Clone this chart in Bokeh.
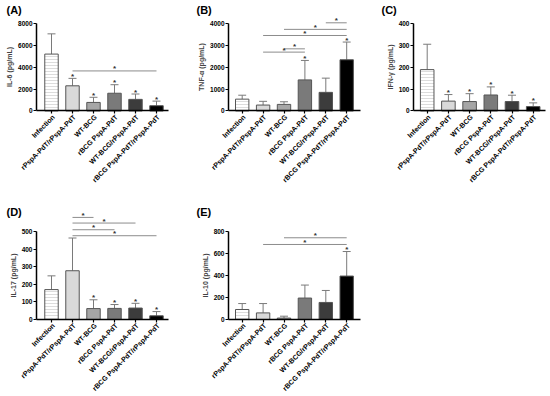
import math
from bokeh.plotting import figure
from bokeh.models import FixedTicker
from bokeh.layouts import row, column
from bokeh.embed import file_html
from bokeh.resources import INLINE
from bokeh.core.properties import value

groups = ["Infection", "rPspA-PdT/rPspA-PdT", "WT-BCG", "rBCG PspA-PdT",
          "WT-BCG/rPspA-PdT", "rBCG PspA-PdT/rPspA-PdT"]
bar_colors = ["#ffffff", "#d9d9d9", "#a6a6a6", "#7a7a7a", "#3c3c3c", "#000000"]

# (A) IL-6
il6_mean = [5200, 2300, 780, 1620, 1060, 480]
il6_err = [1850, 680, 470, 780, 490, 420]
il6_star = [0, 1, 1, 1, 1, 1]
il6_sig = [(1, 5, 3660)]
il6_ticks = [0, 2000, 4000, 6000, 8000]

# (B) TNF-alpha
tnf_mean = [540, 270, 300, 1420, 850, 2340]
tnf_err = [180, 170, 120, 890, 650, 810]
tnf_star = [0, 0, 0, 1, 0, 1]
tnf_sig = [(1, 3, 2690), (2, 3, 2840), (1, 5, 3450), (2, 5, 3730), (4, 5, 4030)]
tnf_ticks = [0, 1000, 2000, 3000, 4000]

# (C) IFN-gamma
ifn_mean = [189, 45, 43, 73, 43, 20]
ifn_err = [116, 30, 36, 37, 29, 17]
ifn_star = [0, 1, 1, 1, 1, 1]
ifn_sig = []
ifn_ticks = [0, 100, 200, 300, 400]

# (D) IL-17
il17_mean = [170, 277, 62, 63, 65, 21]
il17_err = [78, 186, 50, 22, 27, 24]
il17_star = [0, 0, 1, 1, 1, 1]
il17_sig = [(1, 2, 580), (1, 4, 548), (1, 3, 510), (1, 5, 476)]
il17_ticks = [0, 100, 200, 300, 400, 500]

# (E) IL-10
il10_mean = [91, 60, 13, 195, 155, 395]
il10_err = [54, 85, 17, 118, 109, 223]
il10_star = [0, 0, 0, 0, 0, 1]
il10_sig = [(2, 5, 743), (1, 5, 682)]
il10_ticks = [0, 200, 400, 600, 800]

FONT = "Liberation Sans"
ERR = "#7a7a7a"
EDGE = "#555555"
SIG = "#8c8c8c"


def panel(letter, ylabel, means, errs, stars, sigs, yticks, yr, xr, xbounds,
          w, h, bt, t_off, t_stand):
    p = figure(width=w, height=h, x_range=xr, y_range=yr,
               output_backend="svg", toolbar_location=None,
               min_border_left=0, min_border_right=0,
               min_border_top=bt, min_border_bottom=0)
    p.xgrid.visible = False
    p.ygrid.visible = False
    p.outline_line_color = None
    p.background_fill_color = "white"
    p.border_fill_color = "white"

    p.title.text = letter
    p.title.align = "left"
    p.title.offset = t_off
    p.title.standoff = t_stand
    p.title.text_font = FONT
    p.title.text_font_size = "11px"
    p.title.text_font_style = "bold"
    p.title.text_color = "black"

    xs = list(range(len(means)))
    tops = [m + e for m, e in zip(means, errs)]
    p.segment(x0=xs, y0=means, x1=xs, y1=tops, line_color=ERR, line_width=1)
    p.segment(x0=[x - 0.19 for x in xs], y0=tops, x1=[x + 0.19 for x in xs],
              y1=tops, line_color=ERR, line_width=1)

    p.vbar(x=xs[:1], top=means[:1], width=0.64, fill_color=bar_colors[0],
           line_color=EDGE, line_width=1, hatch_pattern="-",
           hatch_color="#c4c4c4", hatch_scale=3, hatch_weight=0.6)
    p.vbar(x=xs[1:], top=means[1:], width=0.64, fill_color=bar_colors[1:],
           line_color=EDGE, line_width=1)

    sx = [x for x, s in zip(xs, stars) if s]
    sy = [t for t, s in zip(tops, stars) if s]
    if sx:
        p.text(x=sx, y=sy, text=["*"] * len(sx), text_font=value(FONT),
               text_font_size="8px", text_font_style="bold", text_color="#333333",
               text_align="center", text_baseline="middle", y_offset=-2)

    if sigs:
        p.segment(x0=[s[0] for s in sigs], y0=[s[2] for s in sigs],
                  x1=[s[1] for s in sigs], y1=[s[2] for s in sigs],
                  line_color=SIG, line_width=1)
        p.text(x=[(s[0] + s[1]) / 2 for s in sigs], y=[s[2] for s in sigs],
               text=["*"] * len(sigs), text_font=value(FONT),
               text_font_size="8px", text_font_style="bold", text_color="#333333",
               text_align="center", text_baseline="middle", y_offset=-2)

    # category labels, rotated 45 degrees, ending at each tick
    p.text(x=xs, y=[0] * len(xs), text=groups, angle=math.pi / 4,
           text_align="right", text_baseline="middle", x_offset=2, y_offset=5,
           text_font=value(FONT), text_font_size="7px", text_font_style="bold",
           text_color="black")

    for ax in (p.xaxis[0], p.yaxis[0]):
        ax.axis_line_width = 1.5
        ax.axis_line_color = "black"
        ax.major_tick_line_width = 1.2
        ax.major_tick_line_color = "black"
        ax.major_tick_out = 3
        ax.major_tick_in = 0
        ax.minor_tick_line_color = None
        ax.major_label_text_font = FONT
        ax.major_label_text_font_style = "bold"
        ax.major_label_text_color = "black"
        ax.major_label_standoff = 1

    p.xaxis.fixed_location = 0
    p.xaxis.bounds = xbounds
    p.xaxis.ticker = FixedTicker(ticks=xs)
    p.xaxis.major_label_overrides = {i: "" for i in xs}

    p.yaxis.fixed_location = xbounds[0]
    p.yaxis.ticker = FixedTicker(ticks=yticks)
    p.yaxis.bounds = (0, yticks[-1])
    p.yaxis.major_label_text_font_size = "6.5px"
    p.yaxis.axis_label = ylabel
    p.yaxis.axis_label_text_font = FONT
    p.yaxis.axis_label_text_font_size = "7px"
    p.yaxis.axis_label_text_font_style = "bold"
    p.yaxis.axis_label_standoff = 2
    return p


# Top row: figure y 0..190, frame from ~15, value 0 at y=110 (88 px per top tick)
# Bottom row: figure y 190..396, frame from 212, value 0 at y=319
pA = panel("(A)", "IL-6 (pg/mL)", il6_mean, il6_err, il6_star, il6_sig, il6_ticks,
           (-80 * 8000 / 88, 95 * 8000 / 88), (-51 / 21, 145 / 21), (-15 / 21, 117 / 21),
           196, 190, 14, 6, 2)
pB = panel("(B)", "TNF-α (pg/mL)", tnf_mean, tnf_err, tnf_star, tnf_sig, tnf_ticks,
           (-80 * 4000 / 88, 95 * 4000 / 88), (-45.7 / 20.9, 139.3 / 20.9),
           (-13.7 / 20.9, 118.3 / 20.9), 185, 190, 14, 0, 2)
pC = panel("(C)", "IFN-γ (pg/mL)", ifn_mean, ifn_err, ifn_star, ifn_sig, ifn_ticks,
           (-80 * 400 / 88, 95 * 400 / 88), (-45.7 / 21.2, 123.3 / 21.2),
           (-13.7 / 21.2, 118.3 / 21.2), 169, 190, 14, 0, 2)
pD = panel("(D)", "IL-17 (pg/mL)", il17_mean, il17_err, il17_star, il17_sig, il17_ticks,
           (-77 * 500 / 88, 107 * 500 / 88), (-51 / 21, 145 / 21), (-15 / 21, 117 / 21),
           196, 206, 22, 6, -11)
pE = panel("(E)", "IL-10 (pg/mL)", il10_mean, il10_err, il10_star, il10_sig, il10_ticks,
           (-77 * 800 / 88, 107 * 800 / 88), (-45.7 / 20.9, 139.3 / 20.9),
           (-13.7 / 20.9, 118.3 / 20.9), 185, 206, 22, 0, -11)

layout = column(row(pA, pB, pC), row(pD, pE))
open("out.html", "w").write(file_html(layout, INLINE))
